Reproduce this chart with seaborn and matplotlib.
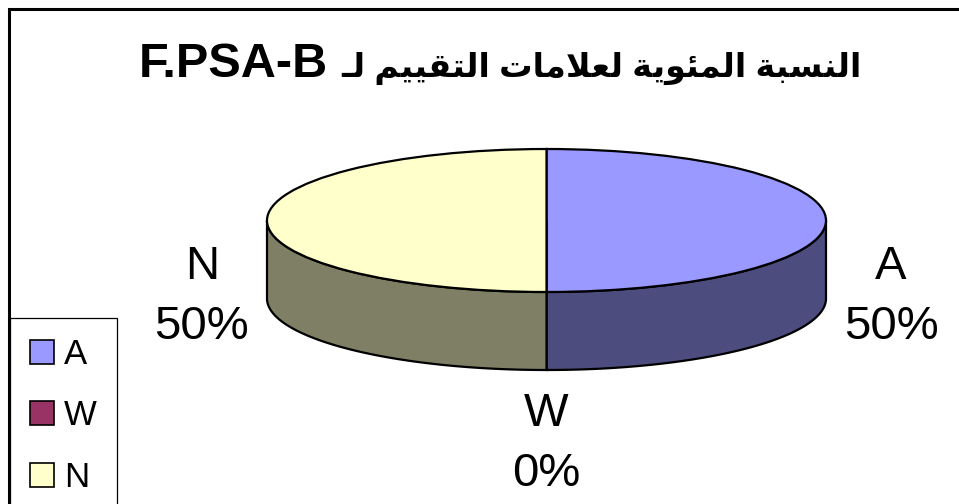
import numpy as np
import matplotlib
matplotlib.use("Agg")
import matplotlib.pyplot as plt
from matplotlib.patches import Patch, Polygon
import seaborn as sns

# --- data ---
categories = ["A", "W", "N"]
values = [50, 0, 50]
top_colors = ["#9999FF", "#993366", "#FFFFCC"]
side_colors = ["#4C4C7F", "#4C1933", "#7F7F66"]
title_words = ["النسبة", "المئوية", "لعلامات", "التقييم", "لـ"]
title_code = "F.PSA-B"

# Arabic presentation forms: isolated, final, initial, medial
FORMS = {
    'ا': ('\uFE8D', '\uFE8E', None, None),
    'ل': ('\uFEDD', '\uFEDE', '\uFEDF', '\uFEE0'),
    'ن': ('\uFEE5', '\uFEE6', '\uFEE7', '\uFEE8'),
    'س': ('\uFEB1', '\uFEB2', '\uFEB3', '\uFEB4'),
    'ب': ('\uFE8F', '\uFE90', '\uFE91', '\uFE92'),
    'ة': ('\uFE93', '\uFE94', None, None),
    'م': ('\uFEE1', '\uFEE2', '\uFEE3', '\uFEE4'),
    'ئ': ('\uFE89', '\uFE8A', '\uFE8B', '\uFE8C'),
    'و': ('\uFEED', '\uFEEE', None, None),
    'ي': ('\uFEF1', '\uFEF2', '\uFEF3', '\uFEF4'),
    'ع': ('\uFEC9', '\uFECA', '\uFECB', '\uFECC'),
    'ت': ('\uFE95', '\uFE96', '\uFE97', '\uFE98'),
    'ق': ('\uFED5', '\uFED6', '\uFED7', '\uFED8'),
}


def shape_word(word):
    # join letters and return them in visual (left-to-right) order
    out = []
    prev_left = False
    i = 0
    n = len(word)
    while i < n:
        c = word[i]
        if c == 'ل' and i + 1 < n and word[i + 1] == 'ا':
            out.append('\uFEFC' if prev_left else '\uFEFB')
            prev_left = False
            i += 2
            continue
        if c == 'ـ':
            out.append(c)
            prev_left = True
            i += 1
            continue
        iso, fin, ini, med = FORMS[c]
        nxt = i + 1 < n and (word[i + 1] in FORMS or word[i + 1] == 'ـ')
        jl = ini is not None and nxt
        if prev_left and jl:
            g = med
        elif prev_left:
            g = fin
        elif jl:
            g = ini
        else:
            g = iso
        out.append(g)
        prev_left = ini is not None
        i += 1
    return ''.join(reversed(out))


title_ar = " ".join(shape_word(w) for w in reversed(title_words))

sns.set_theme(style="white")
plt.rcParams['font.family'] = ['Liberation Sans', 'DejaVu Sans']
plt.rcParams['text.color'] = 'black'

W, H = 959, 504
fig = plt.figure(figsize=(W / 100, H / 100), dpi=100)
fig.patch.set_facecolor("white")

# background axes in pixel coords for the chart border
bg = fig.add_axes([0, 0, 1, 1])
bg.set_xlim(0, W)
bg.set_ylim(H, 0)
bg.axis("off")
bg.plot([8.5, 8.5, W + 5], [H + 5, 8.5, 8.5], color="black", lw=2.2,
        solid_joinstyle="miter", clip_on=False)

# title: Arabic part on the right, code to its left
t_ar = fig.text(862 / W, 1 - 77 / H, title_ar, ha="right", va="baseline",
                fontsize=24, fontweight="bold")
renderer = fig.canvas.get_renderer()
ar_left = t_ar.get_window_extent(renderer).x0
fig.text((ar_left - 14) / W, 1 - 77 / H, title_code, ha="right",
         va="baseline", fontsize=35, fontweight="bold")

# pie axes: ellipse top plus a front wall
cx, cy, rx, ry, depth = 546.5, 220.5, 279.5, 71.5, 78
d = depth / ry
ax = fig.add_axes([(cx - rx) / W, 1 - (cy + ry + depth) / H,
                   2 * rx / W, (2 * ry + depth) / H])

total = sum(values)
cum = np.concatenate([[0], np.cumsum(values)]) / total
for i, col in enumerate(side_colors):
    t_hi = 90 - 360 * cum[i]
    t_lo = 90 - 360 * cum[i + 1]
    for k in range(-3, 2):
        a = max(t_lo, 180 + 360 * k)
        b = min(t_hi, 360 + 360 * k)
        if b - a <= 0:
            continue
        t = np.radians(np.linspace(a, b, 200))
        xs = np.concatenate([np.cos(t), np.cos(t[::-1])])
        ys = np.concatenate([np.sin(t), np.sin(t[::-1]) - d])
        ax.add_patch(Polygon(np.column_stack([xs, ys]), closed=True,
                             facecolor=col, edgecolor="black", lw=1.6,
                             clip_on=False))

wedges, _ = ax.pie(values, colors=top_colors, startangle=90,
                   counterclock=False, radius=1, center=(0, 0),
                   wedgeprops=dict(edgecolor="black", linewidth=1.6))
for w in wedges:
    w.set_clip_on(False)
ax.set_aspect("auto")
ax.set_xlim(-1, 1)
ax.set_ylim(-1 - d, 1)
ax.axis("off")

# data labels outside the slices
for i, name in enumerate(categories):
    mid = np.radians(90 - 180 * (cum[i] + cum[i + 1]))
    lx = 1.233 * np.cos(mid)
    ly = 2.06 * np.sin(mid) - 1.07
    pct = 100 * values[i] / total
    ax.text(lx, ly, f"{name}\n{pct:.0f}%", ha="center", va="center",
            fontsize=34, linespacing=1.47, clip_on=False)

handles = [Patch(facecolor=c, edgecolor="black", linewidth=1.2, label=n)
           for n, c in zip(categories, top_colors)]
leg = fig.legend(handles=handles, loc="upper left",
                 bbox_to_anchor=(10 / W, 1 - 318 / H),
                 bbox_transform=fig.transFigure, borderaxespad=0,
                 fontsize=25, frameon=True, fancybox=False, framealpha=1,
                 edgecolor="black", handlelength=0.69, handleheight=0.69,
                 handletextpad=0.3, labelspacing=0.82, borderpad=0.57)
leg.get_frame().set_linewidth(0.9)

fig.savefig("out.png", dpi=100)
